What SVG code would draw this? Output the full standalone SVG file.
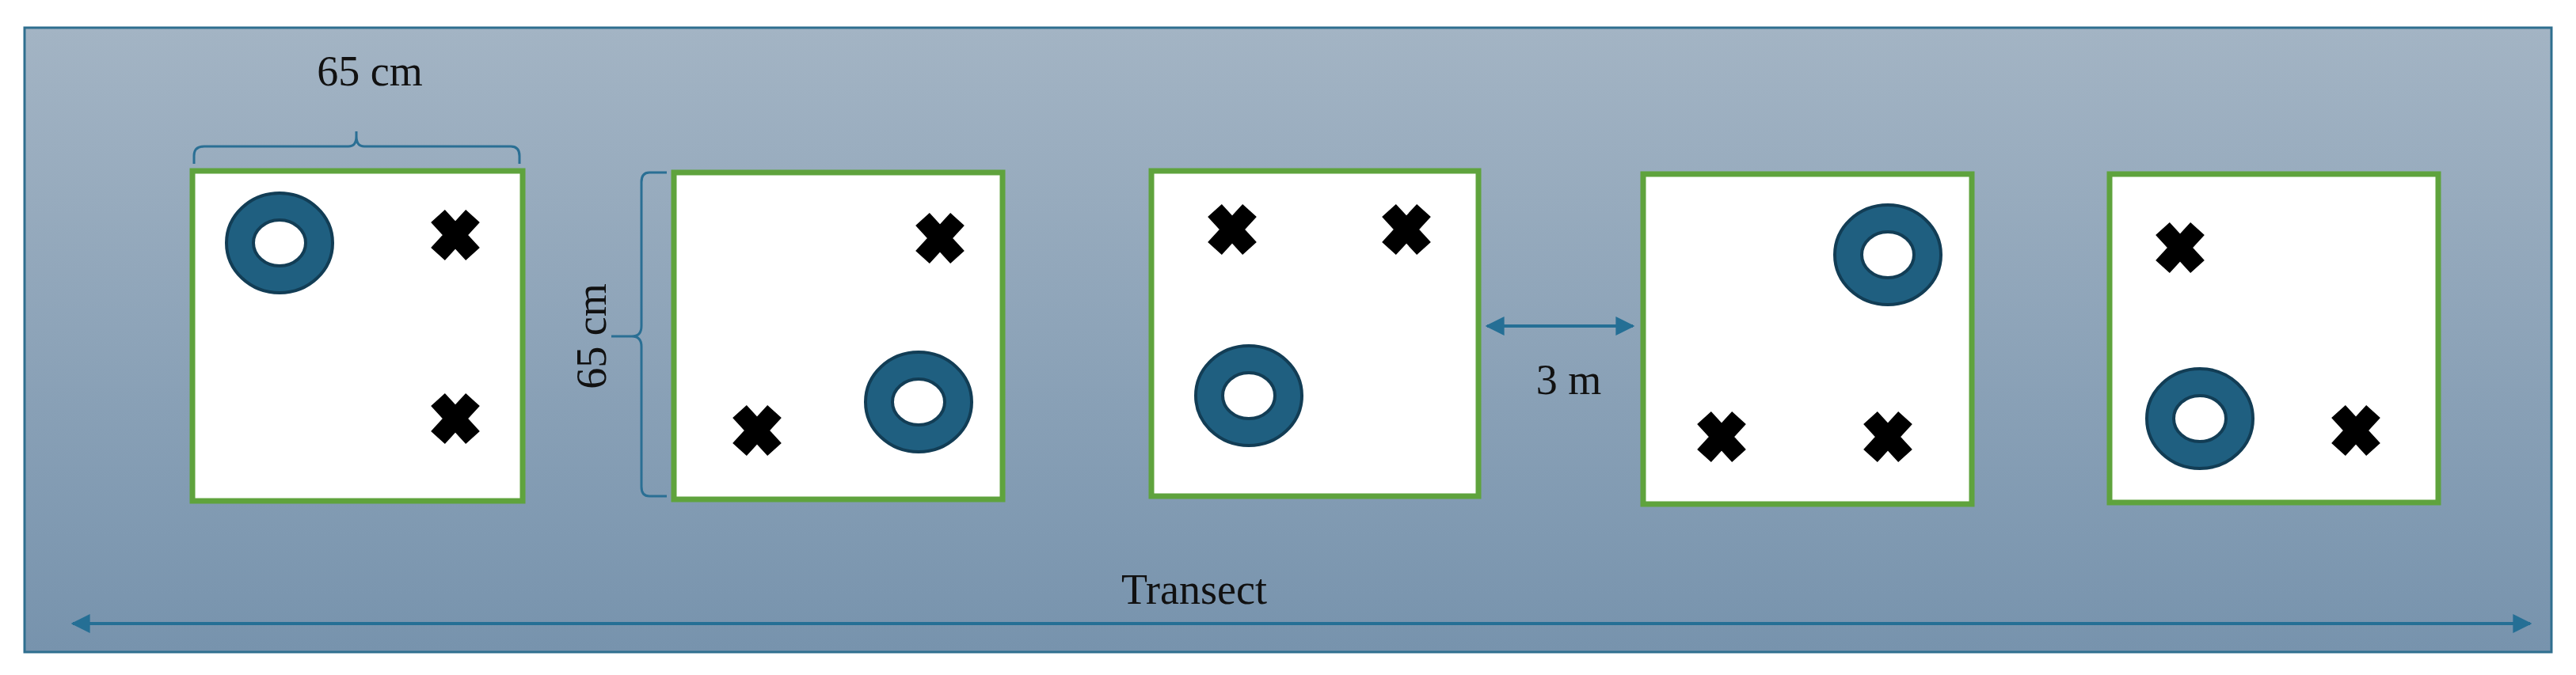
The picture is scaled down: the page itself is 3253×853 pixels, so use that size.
<svg xmlns="http://www.w3.org/2000/svg" width="3253" height="853" viewBox="0 0 3253 853">
<defs>
<linearGradient id="bg" x1="0" y1="0" x2="0" y2="1"><stop offset="0" stop-color="#a3b4c4"/><stop offset="1" stop-color="#7793ad"/></linearGradient>
<marker id="ah" viewBox="0 0 10 10" refX="9" refY="5" markerWidth="6" markerHeight="6" orient="auto-start-reverse" markerUnits="strokeWidth"><path d="M0,0 L10,5 L0,10 z" fill="#256f95"/></marker>
<g id="ring"><ellipse rx="67" ry="63" fill="#1f5f80" stroke="#123d55" stroke-width="4"/><ellipse rx="33" ry="29" fill="#fff" stroke="#123d55" stroke-width="4"/></g>
<g id="x"><path d="M-22,-24 L22,24 M22,-24 L-22,24" stroke="#000" stroke-width="24"/></g>
</defs>
<style>.box{fill:#fff;stroke:#5fa33d;stroke-width:7}.lbl{font-family:"Liberation Serif",serif;font-size:54px;fill:#111;text-anchor:middle}.br{fill:none;stroke:#2a6f94;stroke-width:3}.ar{stroke:#256f95;stroke-width:4;fill:none}</style>
<rect x="31" y="35" width="3191" height="789" fill="url(#bg)" stroke="#2f6f8f" stroke-width="3"/>
<g id="box1"><rect class="box" x="243" y="216" width="417" height="417"/><use href="#ring" x="353" y="307"/><use href="#x" x="575" y="297"/><use href="#x" x="575" y="529"/></g>
<g id="box2"><rect class="box" x="851" y="218" width="415" height="413"/><use href="#x" x="1187" y="301"/><use href="#x" x="956" y="544"/><use href="#ring" x="1160" y="508"/></g>
<g id="box3"><rect class="box" x="1454" y="216" width="413" height="411"/><use href="#x" x="1556" y="290"/><use href="#x" x="1776" y="290"/><use href="#ring" x="1577" y="500"/></g>
<g id="box4"><rect class="box" x="2075" y="220" width="415" height="417"/><use href="#ring" x="2384" y="322"/><use href="#x" x="2174" y="552"/><use href="#x" x="2384" y="552"/></g>
<g id="box5"><rect class="box" x="2664" y="220" width="415" height="415"/><use href="#x" x="2753" y="313"/><use href="#ring" x="2778" y="529"/><use href="#x" x="2975" y="544"/></g>
<g id="annotations">
<path class="br" d="M245,207 V197 Q245,185 258,185 H440 Q450,185 450,172 V166 M450,172 Q450,185 460,185 H645 Q656,185 656,197 V207"/>
<path class="br" d="M842,218 H820 Q810,218 810,230 V412 Q810,425 798,425 H772 M798,425 Q810,425 810,438 V615 Q810,627 820,627 H842"/>
<text class="lbl" x="467" y="108">65 cm</text>
<text class="lbl" transform="translate(765,425) rotate(-90)">65 cm</text>
<text class="lbl" x="1981" y="498">3 m</text>
<text class="lbl" x="1508" y="763">Transect</text>
</g>
<g id="connectors">
<line class="ar" x1="1878" y1="412" x2="2062" y2="412" marker-start="url(#ah)" marker-end="url(#ah)"/>
<line class="ar" x1="92" y1="788" x2="3195" y2="788" marker-start="url(#ah)" marker-end="url(#ah)"/>
</g>
</svg>
